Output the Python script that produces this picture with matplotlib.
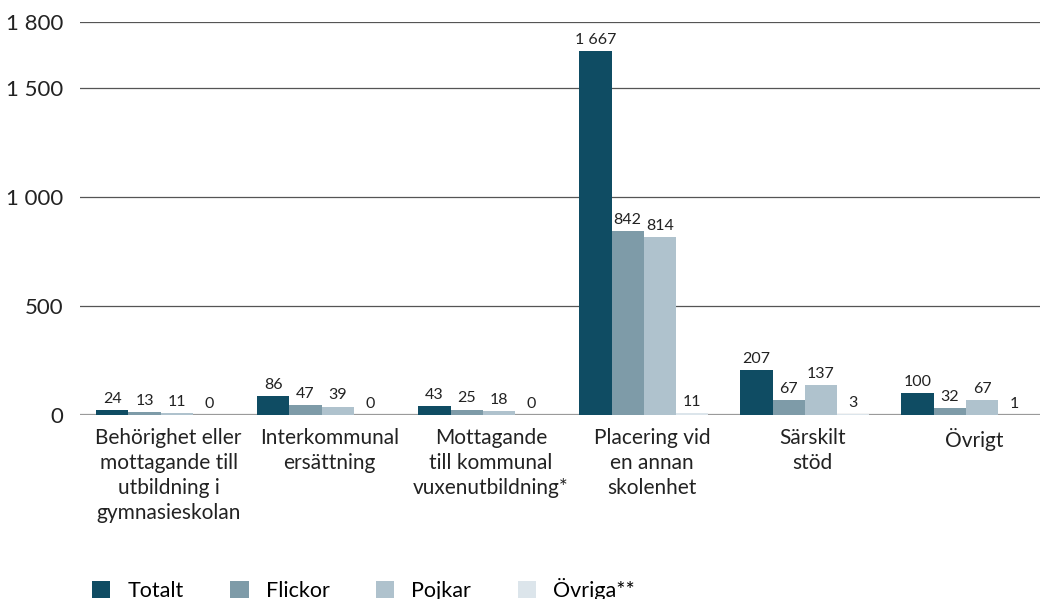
import matplotlib.pyplot as plt
import numpy as np

plt.rcParams['font.family'] = ['Lato', 'DejaVu Sans']

categories = [
    'Behörighet eller\nmottagande till\nutbildning i\ngymnasieskolan',
    'Interkommunal\nersättning',
    'Mottagande\ntill kommunal\nvuxenutbildning*',
    'Placering vid\nen annan\nskolenhet',
    'Särskilt\nstöd',
    'Övrigt',
]
series = ['Totalt', 'Flickor', 'Pojkar', 'Övriga**']
totalt = [24, 86, 43, 1667, 207, 100]
flickor = [13, 47, 25, 842, 67, 32]
pojkar = [11, 39, 18, 814, 137, 67]
ovriga = [0, 0, 0, 11, 3, 1]
yticks = [0, 500, 1000, 1500, 1800]

colors = ['#0F4C63', '#7E9BA8', '#AFC2CD', '#DCE5EB']


def fmt(v):
    return f'{v:,.0f}'.replace(',', ' ')


def main():
    fig = plt.figure(figsize=(10.4, 5.99), dpi=100)
    ax = fig.add_axes([0.077, 0.307, 0.923, 0.656])

    x = np.arange(len(categories))
    w = 0.2
    values = [totalt, flickor, pojkar, ovriga]
    for k, (name, vals) in enumerate(zip(series, values)):
        bars = ax.bar(x + (k - 1.5) * w, vals, w, color=colors[k], label=name, zorder=3)
        ax.bar_label(bars, labels=[fmt(v) for v in vals], padding=3, fontsize=11.5,
                     color='#222222')

    ax.axhline(0, color='#9a9a9a', lw=1.6, zorder=2)
    for t in yticks[1:]:
        ax.axhline(t, color='#555555', lw=0.9, zorder=1)

    ax.set_ylim(0, 1800)
    ax.set_xlim(-0.5, 5.46)
    ax.set_yticks(yticks)
    ax.set_yticklabels([fmt(t) for t in yticks], fontsize=16, color='#222222')
    ax.set_xticks(x + 0.05)
    ax.set_xticklabels(categories, fontsize=15, color='#222222', linespacing=1.32,
                       va='top')
    ax.tick_params(axis='both', length=0)
    ax.tick_params(axis='y', pad=12)
    ax.tick_params(axis='x', pad=9)
    for s in ax.spines.values():
        s.set_visible(False)

    fig.legend(loc='lower left', bbox_to_anchor=(0.07, -0.035), ncol=4, frameon=False,
               fontsize=15.5, handlelength=0.85, handleheight=0.85, columnspacing=2.15,
               handletextpad=0.8)

    fig.savefig('out.png', dpi=100)


if __name__ == '__main__':
    main()
